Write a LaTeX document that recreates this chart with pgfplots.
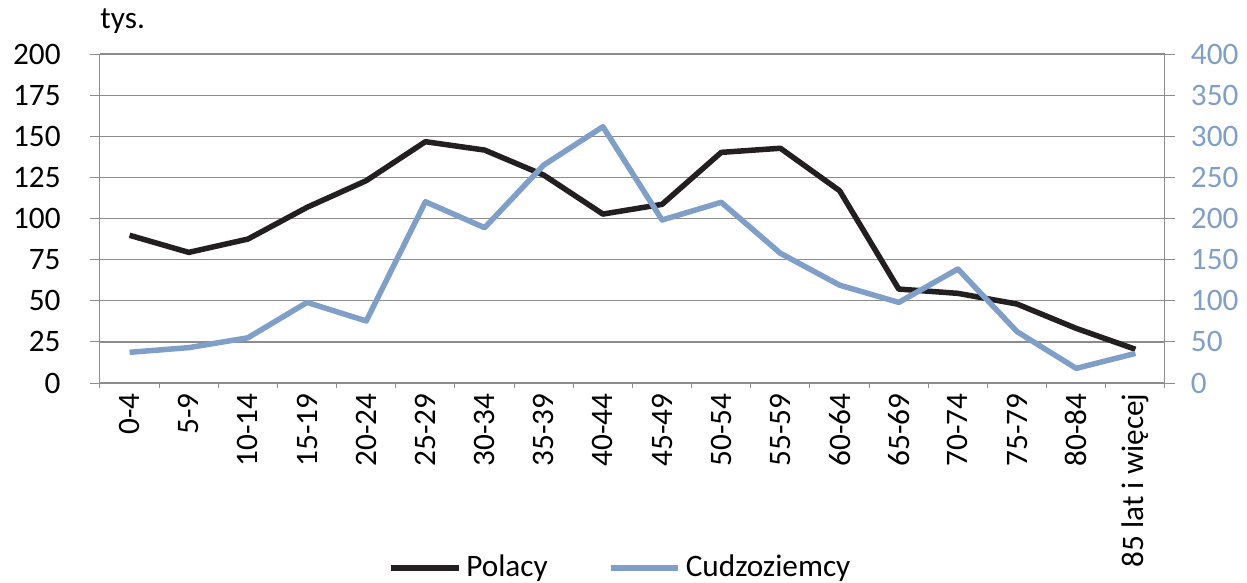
\documentclass[border=0pt]{standalone}
\usepackage{pgfplots}
\pgfplotsset{compat=1.18}
\usepackage{fontspec}
\setmainfont{Carlito}
\definecolor{blu}{RGB}{127,159,200}
\definecolor{blk}{RGB}{35,31,32}
\definecolor{grd}{RGB}{140,140,140}
\pgfplotstableread{
x pol cud
0 89.8 37.3
1 79.4 43
2 87.5 55
3 106.8 98
4 123 75.4
5 146.7 220.4
6 141.6 188.8
7 126.4 265
8 102.7 311.6
9 108.6 198.2
10 140.2 219.7
11 142.7 157.7
12 116.9 119
13 57.1 98
14 54.5 138.6
15 48 62.4
16 33.2 17.8
17 20.5 36
}\data
\begin{document}
\fontsize{12.5}{15}\selectfont
\begin{tikzpicture}
\useasboundingbox (-40pt,-80pt) rectangle (458.8pt,153.2pt);
\pgfplotsset{
  every axis/.append style={
    at={(0,0)}, anchor=south west,
    scale only axis, width=426pt, height=131.6pt,
    xmin=-0.5, xmax=17.5,
    /pgf/number format/assume math mode=true,
    tick align=outside,
    major tick length=4pt,
    minor tick length=2pt,
    axis line style={grd},
    every tick/.style={grd},
  }
}
\begin{axis}[
  ymin=0, ymax=200,
  ytick={0,25,...,200},
  axis x line*=bottom, axis y line*=left,
  ymajorgrids, grid style={grd, line width=0.5pt},
  xtick={0,...,17},
  xticklabels={0-4,5-9,10-14,15-19,20-24,25-29,30-34,35-39,40-44,45-49,50-54,55-59,60-64,65-69,70-74,75-79,80-84,85 lat i więcej},
  x tick label style={rotate=90, anchor=east, inner sep=0pt},
  major x tick style={draw=none},
  minor xtick={-0.5,0.5,...,17.5},
  y tick label style={xshift=-7.4pt},
  clip=false,
]
\addplot[blk, line width=2.2pt, line join=round] table[x=x,y=pol] {\data};
\node[anchor=base west, inner sep=0pt] at (rel axis cs:0,1) [yshift=10.4pt] {tys.};
\end{axis}
\begin{axis}[
  ymin=0, ymax=400,
  ytick={0,50,...,400},
  axis x line=none, axis y line*=right,
  y tick label style={blu, xshift=2pt},
  legend style={at={(0.49,-0.562)}, anchor=center, draw=none, fill=none,
    legend columns=2, /tikz/every even column/.append style={column sep=22pt},
    font=\fontsize{12.5}{15}\selectfont},
  legend image code/.code={\draw[#1] (0pt,0pt) -- (27pt,0pt);},
]
\addlegendimage{blk, line width=2.2pt}
\addlegendentry{Polacy}
\addplot[blu, line width=2.2pt, line join=round] table[x=x,y=cud] {\data};
\addlegendentry{Cudzoziemcy}
\end{axis}
\end{tikzpicture}
\end{document}
